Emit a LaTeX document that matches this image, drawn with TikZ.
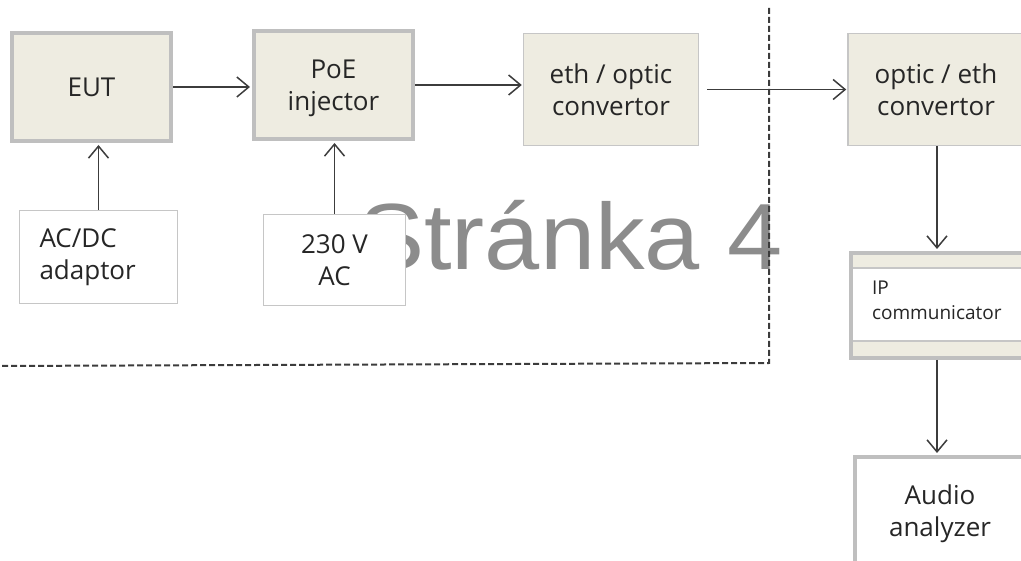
\documentclass[tikz,border=0pt]{standalone}
\usepackage{fontspec}
\setmainfont{Open Sans}
\newfontfamily\markfont{Liberation Sans}
\usepackage{tikz}
\usetikzlibrary{arrows.meta}

\definecolor{boxfill}{HTML}{EEECE1}
\definecolor{boxline}{HTML}{BFBFBF}
\definecolor{thinline}{HTML}{C6C6C6}
\definecolor{linkgray}{HTML}{3C3C3C}
\definecolor{markgray}{HTML}{8C8C8C}
\definecolor{labelgray}{HTML}{262626}

\tikzset{
	heavybox/.style={draw=boxline, line width=4pt, fill=boxfill, text=labelgray,
		align=center, inner sep=0pt},
	heavywhite/.style={draw=boxline, line width=4pt, fill=white, text=labelgray,
		align=center, inner sep=0pt},
	lightbox/.style={draw=thinline, line width=1.5pt, fill=boxfill, text=labelgray,
		align=center, inner sep=0pt},
	plainbox/.style={draw=thinline, line width=1.5pt, fill=white, text=labelgray,
		inner sep=0pt},
	bandbox/.style={draw=boxline, line width=4pt, fill=white, text=labelgray,
		path picture={
			\fill[boxfill] (path picture bounding box.north west)
				rectangle ([yshift=-15pt]path picture bounding box.north east);
			\fill[boxfill] (path picture bounding box.south west)
				rectangle ([yshift=17pt]path picture bounding box.south east);
			\draw[thinline, line width=1.5pt]
				([yshift=-15pt]path picture bounding box.north west) --
				([yshift=-15pt]path picture bounding box.north east);
			\draw[thinline, line width=1.5pt]
				([yshift=17pt]path picture bounding box.south west) --
				([yshift=17pt]path picture bounding box.south east);
		}},
	link/.style={draw=linkgray, line width=1.5pt,
		-{Straight Barb[length=12pt, width=20pt, line width=1.5pt]}},
	border/.style={draw=linkgray, line width=2pt, dash pattern=on 6pt off 3pt},
}

\begin{document}
\begin{tikzpicture}[x=1pt, y=-1pt, font=\fontsize{26}{32}\selectfont]
	
	% NOTE: ONE UNIT IS ONE PIXEL OF THE 1021 x 561 PAGE, y GROWS DOWNWARDS
	\clip (0,0) rectangle (1021,561);
	
	% watermark first, the boxes cover part of it
	\node[anchor=base west, inner sep=0pt, text=markgray, xscale=1.055,
		font=\markfont\fontsize{94}{94}\selectfont] (mark) at (358,270) {Stránka 4};
	
	%%%%%%%%%%%%%%%%%%%%%%%%%%%%%%%%%%%%%%%%%%%%%%%%%%%%%%%%%%%%%%
	% left part (inside the dashed frame)
	\node[heavybox, minimum width=159pt, minimum height=108pt] (EUT) at (91.5,87) {EUT};
	\node[heavybox, minimum width=159pt, minimum height=108pt] (PoE) at (333.5,85) {PoE\\in\smash{j}ector};
	\node[plainbox, minimum height=93pt, text width=118pt, inner xsep=20pt, align=left]
		(adaptor) at (98.5,257) {AC/DC\\adaptor};
	\node[plainbox, minimum width=142pt, minimum height=91pt, align=center]
		(mains) at (334.5,260) {230 V\\AC};
	\node[lightbox, minimum width=175pt, minimum height=112pt] (ethopt) at (611,89.5) {eth / optic\\convertor};
	
	% right part
	\node[lightbox, minimum width=176pt, minimum height=112pt] (opteth) at (936,89.5) {optic / eth\\convertor};
	\node[bandbox, minimum height=105pt, text width=130pt, inner xsep=21pt, inner ysep=0pt,
		text height=14pt, text depth=35pt, align=left, font=\fontsize{19}{25}\selectfont]
		(ipcom) at (937,305.5) {IP\\communicator};
	\node[heavywhite, minimum width=170pt, minimum height=108pt] (audio) at (940,511) {Audio\\anal\smash{y}zer};
	
	% dashed frame
	\coordinate (fTop) at (769,8);
	\coordinate (fCorner) at (769,363);
	\coordinate (fEnd) at (0,366);
	\draw[border] (fTop) -- (fCorner) -- (fEnd);
	
	% connections
	\draw[link, shorten >=2pt] (EUT.east) -- (EUT.east -| PoE.west);
	\draw[link, shorten >=2pt] (adaptor.north) -- (adaptor.north |- EUT.south);
	\draw[link, shorten >=2pt] (mains.north) -- (mains.north |- PoE.south);
	\draw[link, shorten >=1pt] (PoE.east) -- (PoE.east -| ethopt.west);
	\draw[link, shorten <=8pt, shorten >=1pt] (ethopt.east) -- (ethopt.east -| opteth.west);
	\draw[link, shorten >=2pt] (opteth.south -| ipcom.north) -- (ipcom.north);
	\draw[link, shorten >=2pt] (ipcom.south) -- (ipcom.south |- audio.north);
	
\end{tikzpicture}
\end{document}
